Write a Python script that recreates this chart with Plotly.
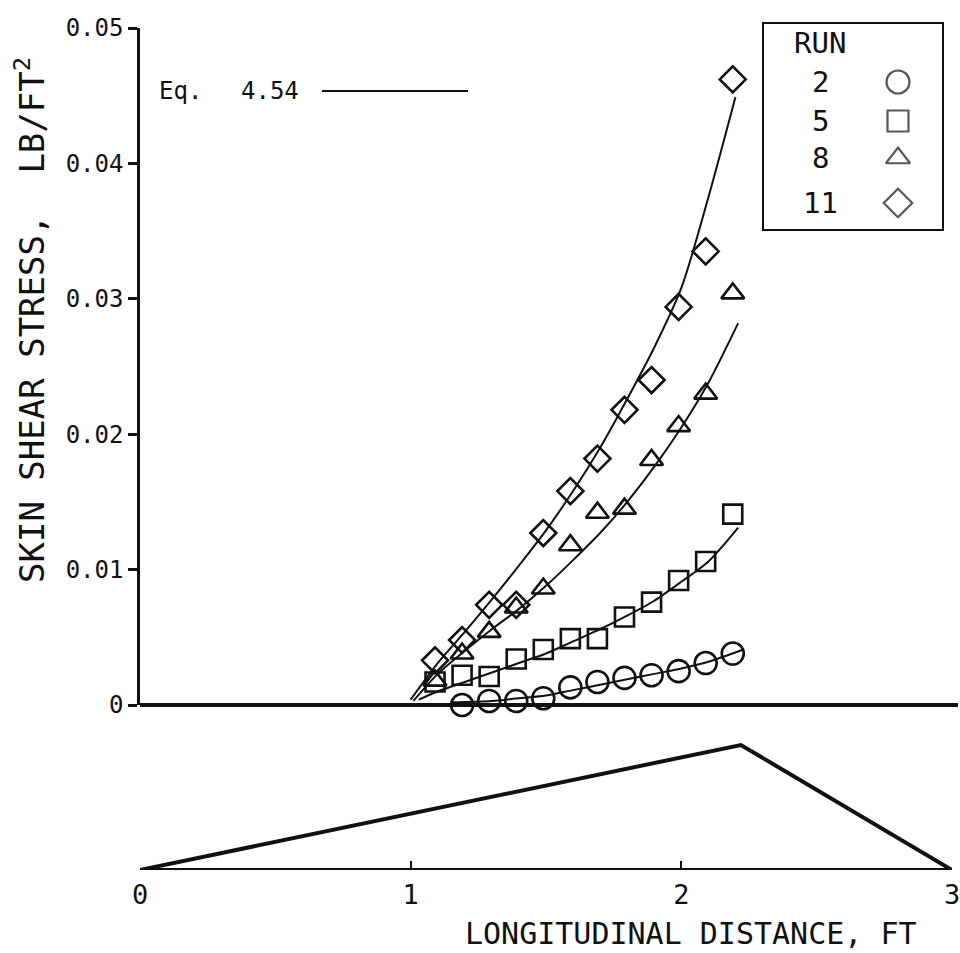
import plotly.graph_objects as go

# ---------------------------------------------------------------------------
# Measured skin shear stress (lb/ft^2) along the body, four runs
# ---------------------------------------------------------------------------
run_names = ["2", "5", "8", "11"]

run2_x = [1.19, 1.29, 1.39, 1.49, 1.59, 1.69, 1.79, 1.89, 1.99, 2.09, 2.19]
run2_y = [0.0000, 0.0003, 0.0003, 0.0005, 0.0013, 0.0017, 0.0020, 0.0022, 0.0025, 0.0031, 0.0038]

run5_x = [1.09, 1.19, 1.29, 1.39, 1.49, 1.59, 1.69, 1.79, 1.89, 1.99, 2.09, 2.19]
run5_y = [0.0017, 0.0022, 0.0021, 0.0034, 0.0041, 0.0049, 0.0049, 0.0065, 0.0076, 0.0092, 0.0106, 0.0141]

run8_x = [1.09, 1.19, 1.29, 1.39, 1.49, 1.59, 1.69, 1.79, 1.89, 1.99, 2.09, 2.19]
run8_y = [0.0018, 0.0038, 0.0054, 0.0072, 0.0086, 0.0118, 0.0142, 0.0145, 0.0181, 0.0206, 0.0230, 0.0304]

run11_x = [1.09, 1.19, 1.29, 1.39, 1.49, 1.59, 1.69, 1.79, 1.89, 1.99, 2.09, 2.19]
run11_y = [0.0033, 0.0048, 0.0074, 0.0074, 0.0127, 0.0158, 0.0182, 0.0218, 0.0240, 0.0294, 0.0335, 0.0462]

# Eq. 4.54 prediction for each run
eq2_x = [1.15, 1.30, 1.40, 1.50, 1.60, 1.70, 1.80, 1.90, 2.00, 2.10, 2.23]
eq2_y = [0.0002, 0.0003, 0.0005, 0.0007, 0.0011, 0.0015, 0.0019, 0.0023, 0.0027, 0.0032, 0.0041]

eq5_x = [1.03, 1.10, 1.20, 1.30, 1.40, 1.50, 1.60, 1.70, 1.80, 1.90, 2.00, 2.10, 2.21]
eq5_y = [0.0004, 0.0010, 0.0017, 0.0024, 0.0031, 0.0038, 0.0047, 0.0056, 0.0066, 0.0077, 0.0091, 0.0106, 0.0131]

eq8_x = [1.01, 1.10, 1.20, 1.30, 1.40, 1.50, 1.60, 1.70, 1.80, 1.90, 2.00, 2.10, 2.21]
eq8_y = [0.0003, 0.0023, 0.0040, 0.0056, 0.0071, 0.0088, 0.0107, 0.0127, 0.0150, 0.0176, 0.0205, 0.0238, 0.0282]

eq11_x = [1.00, 1.10, 1.20, 1.30, 1.40, 1.50, 1.60, 1.70, 1.80, 1.90, 2.00, 2.10, 2.20]
eq11_y = [0.0004, 0.0031, 0.0054, 0.0078, 0.0103, 0.0129, 0.0158, 0.0190, 0.0226, 0.0264, 0.0308, 0.0375, 0.0449]

# Body profile (side view, relative height)
body_x = [0.0, 2.22, 3.0, 0.0]
body_y = [0.0, 1.0, 0.0, 0.0]

# Axis ticks
y_ticks = [0, 0.01, 0.02, 0.03, 0.04, 0.05]
y_ticktext = ["0", "0.01", "0.02", "0.03", "0.04", "0.05"]
x_ticks = [0, 1, 2, 3]
x_ticktext = ["0", "1", "2", "3"]

# ---------------------------------------------------------------------------
# Layout geometry (pixels)
# ---------------------------------------------------------------------------
W, H = 960, 953
X_LEFT, X_RIGHT = 140, 952        # x = 0 ft and x = 3 ft
Y_TOP, Y_ZERO = 28, 705           # stress 0.05 and 0
BODY_BASE, BODY_TOP = 870, 740    # body strip

MONO = "DejaVu Sans Mono"
INK = "#111111"


def fx(px):
    return px / W


def fy(py):
    return 1 - py / H


symbols = ["circle-open", "square-open", "triangle-up-open", "diamond-open"]
sizes = [22, 19, 20, 20]
runs = [(run2_x, run2_y), (run5_x, run5_y), (run8_x, run8_y), (run11_x, run11_y)]
curves = [(eq2_x, eq2_y), (eq5_x, eq5_y), (eq8_x, eq8_y), (eq11_x, eq11_y)]

fig = go.Figure()

for cx, cy in curves:
    fig.add_trace(go.Scatter(
        x=cx, y=cy, mode="lines", xaxis="x", yaxis="y",
        line=dict(color=INK, width=2, shape="spline", smoothing=0.8),
        showlegend=False, hoverinfo="skip", cliponaxis=False,
    ))

for (rx, ry), sym, sz, name in zip(runs, symbols, sizes, run_names):
    fig.add_trace(go.Scatter(
        x=rx, y=ry, mode="markers", name="Run " + name, xaxis="x", yaxis="y",
        marker=dict(symbol=sym, size=sz, color=INK, line=dict(color=INK, width=2.6)),
        showlegend=False, cliponaxis=False,
    ))

# body profile under the plot
fig.add_trace(go.Scatter(
    x=body_x, y=body_y, mode="lines", xaxis="x2", yaxis="y2",
    line=dict(color=INK, width=4), showlegend=False, hoverinfo="skip",
    cliponaxis=False,
))

# key glyphs (pixel-positioned overlay)
key_x = 898
key_rows = [82, 121, 158, 203]
fig.add_trace(go.Scatter(
    x=[key_x] * 4, y=key_rows, mode="markers", xaxis="x3", yaxis="y3",
    marker=dict(symbol=symbols, size=[23, 21, 21, 22], color=INK,
                line=dict(color=INK, width=2.2)),
    showlegend=False, hoverinfo="skip", cliponaxis=False,
))

annotations = [
    dict(text="SKIN SHEAR STRESS,  LB/FT<sup>2</sup>", x=30, y=320, textangle=-90,
         font=dict(family=MONO, size=34, color=INK)),
    dict(text="LONGITUDINAL DISTANCE, FT", x=691, y=933,
         font=dict(family=MONO, size=30, color=INK)),
    dict(text="Eq.", x=157, y=91, xanchor="left",
         font=dict(family=MONO, size=24, color=INK)),
    dict(text="4.54", x=239, y=91, xanchor="left",
         font=dict(family=MONO, size=24, color=INK)),
    dict(text="RUN", x=820, y=43, font=dict(family=MONO, size=29, color=INK)),
]
for name, row in zip(run_names, key_rows):
    annotations.append(dict(text=name, x=820, y=row,
                            font=dict(family=MONO, size=29, color=INK)))
for a in annotations:
    a.update(xref="x3", yref="y3", showarrow=False)
    a.setdefault("xanchor", "center")
    a.setdefault("yanchor", "middle")

shapes = [
    # zero-stress baseline
    dict(type="line", xref="x3", yref="y3", x0=X_LEFT, x1=958, y0=Y_ZERO, y1=Y_ZERO,
         line=dict(color=INK, width=4)),
    # Eq. 4.54 key line
    dict(type="line", xref="x3", yref="y3", x0=322, x1=468, y0=91, y1=91,
         line=dict(color=INK, width=2)),
    # run key frame
    dict(type="rect", xref="x3", yref="y3", x0=763, x1=943, y0=23, y1=230,
         line=dict(color=INK, width=2)),
]

fig.update_layout(
    width=W, height=H,
    margin=dict(l=0, r=0, t=0, b=0),
    paper_bgcolor="white",
    plot_bgcolor="rgba(0,0,0,0)",
    showlegend=False,
    xaxis=dict(domain=[fx(X_LEFT), fx(X_RIGHT)], range=[0, 3], anchor="y",
               visible=False, fixedrange=True),
    yaxis=dict(domain=[fy(Y_ZERO), fy(Y_TOP)], range=[0, 0.05], anchor="x",
               tickvals=y_ticks, ticktext=y_ticktext, ticks="outside",
               ticklen=9, tickwidth=2.5, tickcolor=INK,
               showline=True, linewidth=2.5, linecolor=INK,
               showgrid=False, zeroline=False, automargin=False,
               tickfont=dict(family=MONO, size=24, color=INK)),
    xaxis2=dict(domain=[fx(X_LEFT), fx(X_RIGHT)], range=[0, 3], anchor="y2",
                tickvals=x_ticks, ticktext=x_ticktext, ticks="inside",
                ticklen=9, tickwidth=1.5, tickcolor=INK,
                showline=False, showgrid=False, zeroline=False, automargin=False,
                ticklabelstandoff=6, ticklabeloverflow="allow",
                tickfont=dict(family=MONO, size=27, color=INK)),
    yaxis2=dict(domain=[fy(BODY_BASE), fy(BODY_TOP)], range=[0, 1.04], anchor="x2",
                visible=False),
    xaxis3=dict(domain=[0, 1], range=[0, W], anchor="y3", visible=False),
    yaxis3=dict(domain=[0, 1], range=[H, 0], anchor="x3", visible=False),
    annotations=annotations,
    shapes=shapes,
)

fig.write_html("out.html")
